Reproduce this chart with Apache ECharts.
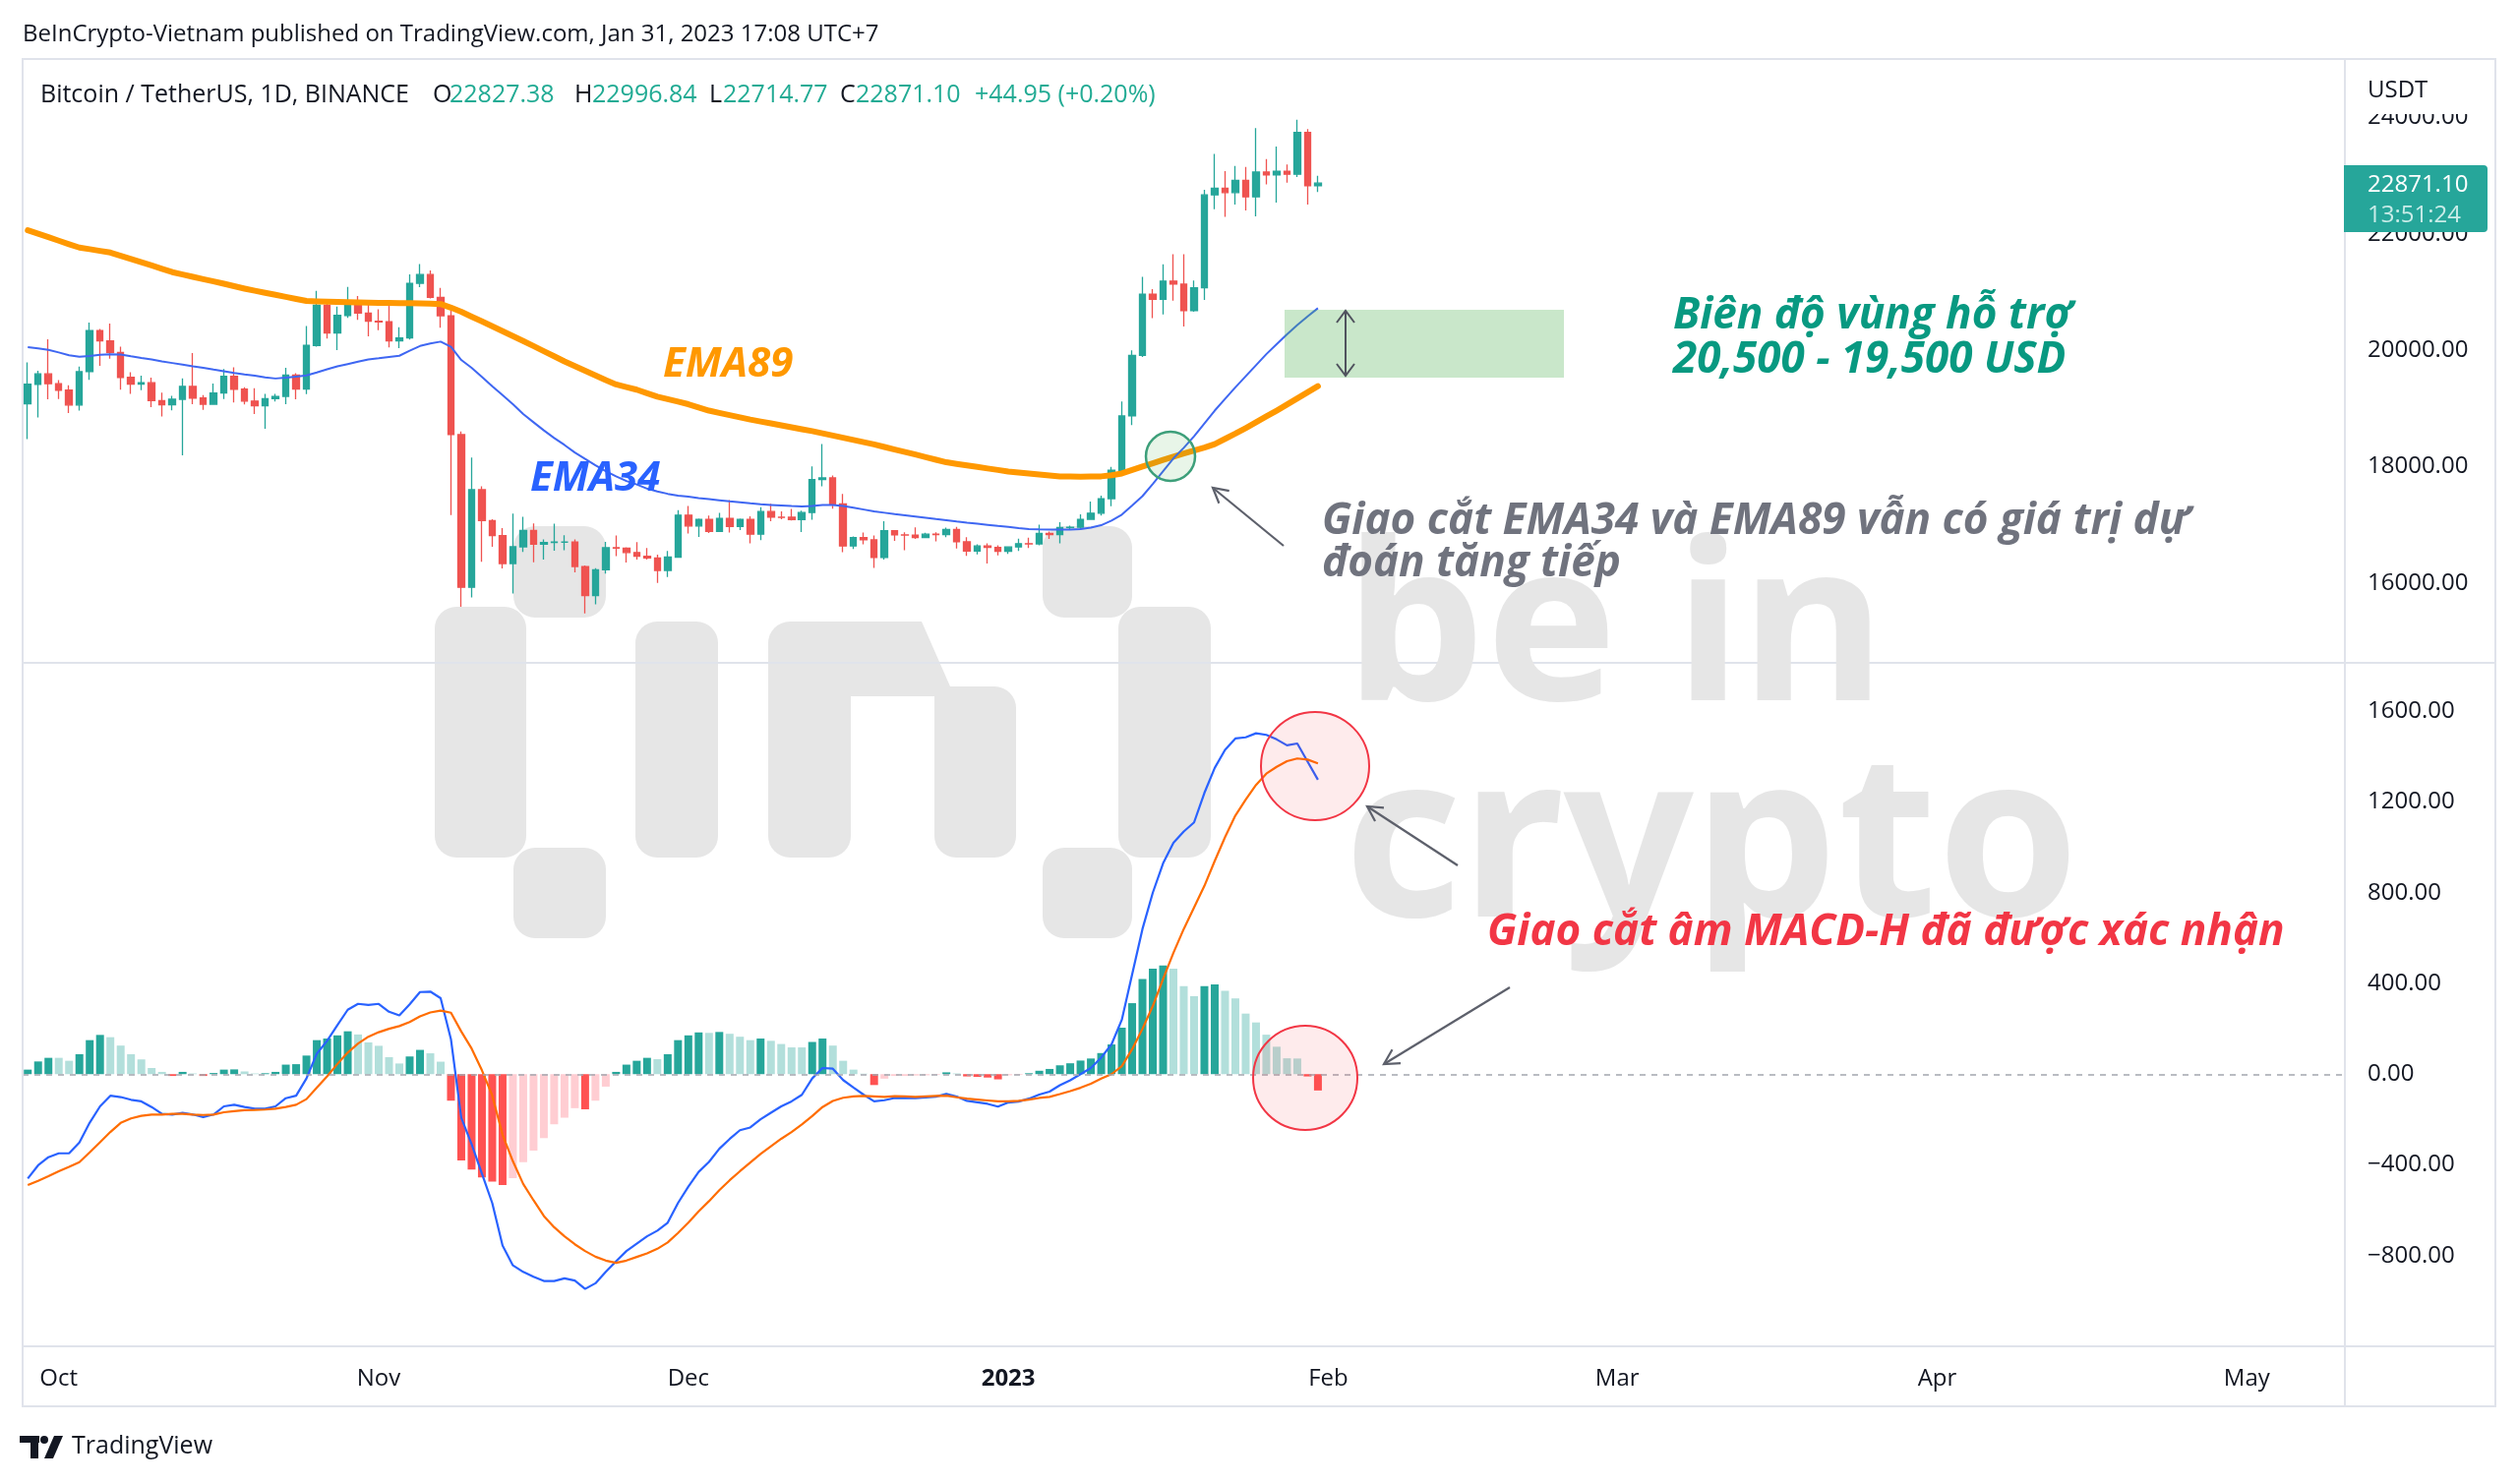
<!DOCTYPE html>
<html><head><meta charset="utf-8">
<script src="https://cdn.jsdelivr.net/npm/echarts@6/dist/echarts.min.js"></script>
<style>html,body{margin:0;padding:0;background:#fff;}#c{width:2560px;height:1509px;}</style>
</head><body><div id="c"></div>
<script>
// ---------- DATA ----------
const firstDay = '2022-09-28';
const slotCount = 225; // daily slots shown on the time axis (through 2023-05-10)
const monthNames = ['Jan','Feb','Mar','Apr','May','Jun','Jul','Aug','Sep','Oct','Nov','Dec'];
const priceTicks = [16000, 18000, 20000, 22000, 24000];
const macdTicks = [-800, -400, 0, 400, 800, 1200, 1600];

// [open, close, low, high]  BTC/USDT daily, 2022-09-28 .. 2023-01-31
const ohlc = [
[19079,19413,18471,19790],[19413,19592,18843,19645],[19592,19423,19155,20185],
[19423,19311,19160,19484],[19311,19057,18920,19395],[19057,19630,18960,19719],[19630,20337,19490,20475],
[20337,20158,19730,20365],[20158,19960,19854,20456],[19960,19531,19320,20060],[19531,19417,19250,19620],
[19417,19439,19313,19560],[19439,19131,19020,19525],[19131,19060,18860,19268],[19060,19155,18965,19214],
[19155,19375,18190,19513],[19375,19176,19070,19951],[19176,19069,18975,19227],[19069,19262,19063,19426],
[19262,19549,19160,19675],[19549,19328,19100,19706],[19328,19124,19065,19360],[19124,19042,18900,19347],
[19042,19165,18650,19250],[19165,19204,19115,19250],[19204,19571,19070,19695],[19571,19330,19157,19601],
[19330,20080,19243,20415],[20080,20772,20060,21020],[20772,20296,20200,20877],[20296,20596,20000,20750],
[20596,20818,20553,21085],[20818,20635,20520,20930],[20635,20495,20237,20840],
[20495,20486,20342,20700],[20486,20159,20048,20800],[20159,20210,20032,20394],[20210,21148,20180,21302],
[21148,21299,21080,21480],[21299,20905,20886,21369],[20905,20591,20384,21069],[20591,18547,17166,20700],
[18547,15923,15588,18600],[15923,17602,15750,18155],[17602,17071,16360,17660],[17071,16813,16620,17095],
[16813,16331,16250,16940],[16331,16620,15815,17190],[16620,16900,16530,17135],[16900,16665,16355,17020],
[16665,16694,16400,16748],[16694,16700,16553,17015],[16700,16700,16560,16820],[16700,16280,16180,16748],
[16280,15781,15476,16300],[15781,16226,15630,16254],[16226,16603,16160,16706],[16603,16598,16458,16812],
[16598,16522,16350,16610],[16522,16458,16400,16700],[16458,16428,16400,16600],[16428,16213,16000,16484],
[16213,16442,16100,16550],[16442,17163,16428,17250],
[17163,16978,16850,17320],[16978,17092,16790,17105],[17092,16886,16855,17155],[16886,17106,16878,17202],
[17106,16967,16866,17424],[16967,17089,16906,17107],[17089,16837,16678,17142],[16837,17225,16733,17299],
[17225,17128,17060,17360],[17128,17127,17092,17227],[17127,17085,17071,17270],[17085,17209,16873,17241],
[17209,17775,17084,18000],[17775,17803,17660,18387],[17803,17357,17275,17846],[17357,16633,16527,17530],
[16633,16776,16583,16796],[16776,16739,16663,16864],[16739,16438,16256,16815],[16438,16895,16398,17061],
[16895,16824,16723,16905],[16824,16822,16560,16868],[16822,16779,16755,16955],[16779,16837,16771,16860],
[16837,16830,16711,16867],[16830,16919,16785,16950],[16919,16706,16592,16963],[16706,16547,16465,16785],
[16547,16633,16488,16664],[16633,16608,16333,16677],[16608,16542,16470,16644],
[16542,16617,16499,16630],[16617,16673,16548,16760],[16673,16669,16600,16777],[16669,16850,16645,17000],
[16850,16831,16753,16881],[16831,16951,16679,17041],[16951,16955,16908,16981],[16955,17091,16912,17176],
[17091,17197,17081,17398],[17197,17446,17157,17499],[17446,17934,17316,17992],[17934,18869,17910,19117],
[18869,19910,18713,19995],[19910,20959,19880,21259],[20959,20872,20551,21050],[20872,21186,20611,21474],
[21186,21133,20849,21650],[21133,20677,20407,21650],[20677,21072,20659,21196],[21072,22667,20862,22755],
[22667,22783,22422,23372],[22783,22707,22292,23078],[22707,22916,22500,23165],[22916,22633,22400,23150],
[22633,23060,22300,23816],[23060,23009,22850,23282],[23009,23074,22534,23500],[23074,23023,22878,23189],
[23023,23743,22975,23960],[23743,22827,22500,23800],[22827,22871,22715,22997]
];

const ema89 = [
22060,22000,21940,21880,21820,21762,21735,21705,21677,21622,
21566,21510,21455,21398,21340,21300,21260,21220,21180,21140,
21098,21057,21020,20985,20950,20915,20880,20844,20838,20832,
20827,20822,20819,20816,20813,20810,20807,20805,20803,20798,
20792,20730,20660,20575,20494,20410,20325,20240,20157,20070,
19982,19895,19806,19725,19645,19565,19485,19410,19365,19320,
19260,19200,19158,19116,19070,19015,18960,18920,18882,18844,
18806,18773,18740,18707,18673,18640,18607,18569,18531,18493,
18455,18417,18380,18335,18290,18248,18205,18160,18116,18072,
18045,18018,17992,17966,17940,17912,17895,17878,17861,17845,
17830,17828,17826,17827,17830,17850,17880,17940,18000,18055,
18112,18170,18222,18275,18325,18385,18475,18565,18660,18760,
18860,18960,19065,19170,19275,19380];

const ema34 = [
20050,20030,20005,19960,19910,19885,19900,19920,19928,19925,
19895,19866,19840,19805,19778,19750,19720,19695,19665,19637,
19608,19582,19560,19530,19512,19525,19545,19564,19615,19670,
19720,19760,19800,19840,19860,19882,19903,19990,20071,20115,
20146,20056,19830,19695,19540,19380,19225,19070,18900,18760,
18620,18490,18370,18240,18130,18020,17920,17830,17750,17690,
17620,17570,17530,17500,17480,17458,17440,17420,17400,17383,
17366,17350,17340,17330,17320,17314,17320,17338,17340,17320,
17290,17260,17230,17205,17180,17160,17140,17118,17096,17075,
17053,17033,17015,16997,16978,16960,16940,16925,16918,16915,
16915,16917,16925,16950,16990,17070,17172,17330,17490,17700,
17920,18140,18320,18520,18740,18960,19160,19360,19550,19740,
19930,20100,20270,20430,20580,20720];

const macd = [
-460,-402,-366,-349,-349,-301,-214,-142,-95,-101,
-113,-120,-145,-175,-178,-171,-178,-189,-178,-142,
-135,-145,-152,-152,-142,-106,-95,-19,90,147,
216,284,310,305,310,275,259,308,362,364,
335,154,-192,-308,-438,-568,-756,-843,-872,-893,
-912,-912,-900,-910,-947,-922,-872,-825,-780,-747,
-715,-690,-655,-568,-496,-431,-387,-329,-286,-247,
-235,-199,-170,-142,-120,-91,-19,27,24,-26,
-59,-91,-120,-115,-105,-106,-106,-103,-99,-87,
-99,-118,-124,-131,-143,-125,-121,-108,-90,-77,
-49,-27,0,27,73,131,240,440,640,800,
930,1020,1070,1110,1240,1350,1430,1480,1485,1503,
1496,1476,1450,1458,1378,1298];

const signal = [
-489,-470,-450,-428,-409,-388,-345,-300,-255,-215,
-195,-184,-178,-178,-175,-175,-178,-180,-178,-168,
-163,-159,-158,-156,-152,-145,-135,-110,-60,-10,
45,95,135,165,185,200,212,230,255,272,
280,271,188,113,17,-94,-267,-384,-484,-556,
-625,-675,-715,-750,-780,-805,-822,-832,-822,-806,
-790,-770,-742,-700,-655,-605,-560,-512,-468,-428,
-390,-352,-318,-285,-255,-222,-185,-145,-118,-104,
-98,-96,-98,-100,-97,-98,-100,-98,-96,-95,
-102,-108,-112,-116,-120,-120,-118,-112,-105,-100,
-88,-75,-60,-42,-20,0,35,110,200,300,
420,535,640,735,830,940,1045,1140,1210,1275,
1325,1355,1380,1392,1387,1370];

const hist = [
20,56,72,72,59,88,150,173,163,126,
88,65,27,10,-8,10,3,-8,5,20,
21,12,3,4,10,42,44,82,150,157,
171,189,175,140,125,75,47,78,107,92,
55,-117,-380,-421,-455,-474,-489,-459,-388,-337,
-282,-221,-192,-150,-155,-117,-55,10,42,59,
72,66,88,150,171,184,182,186,178,165,
150,157,147,133,118,118,142,157,126,59,
20,2,-48,-20,-8,-8,-6,-5,-3,8,
3,-10,-12,-15,-23,-5,-3,4,15,23,
39,48,60,69,93,131,205,313,419,465,
479,465,388,344,388,396,367,334,267,228,
174,121,70,69,-10,-72];

// ---------- BUILD ----------
const dates = [];
{
  const d0 = new Date(firstDay + 'T00:00:00Z');
  for (let i = 0; i < slotCount; i++) {
    const d = new Date(d0.getTime() + i * 86400000);
    dates.push(d.toISOString().slice(0, 10));
  }
}
const histData = hist.map((v, i) => {
  const prev = i > 0 ? hist[i - 1] : null;
  let c;
  if (v >= 0) c = (prev === null || v > prev) ? '#26a69a' : '#b2dfdb';
  else c = (prev !== null && v < prev) ? '#ff5252' : '#ffcdd2';
  return { value: v, itemStyle: { color: c } };
});

const UI = '"Open Sans", "Noto Sans", sans-serif';
const TXT = '#131722';
function fmt(v) { return (v < 0 ? '\u2212' : '') + Math.abs(v).toFixed(2); }

function txt(x, y, text, font, fill, z) {
  return { type: 'text', x: x, y: y, z: z || 100, silent: true,
    style: { text: text, font: font, fill: fill, align: 'left', verticalAlign: 'middle',
             textAlign: 'left', textVerticalAlign: 'middle' } };
}
function line(x1, y1, x2, y2, stroke, w, z) {
  return { type: 'line', z: z || 100, silent: true, shape: { x1, y1, x2, y2 },
    style: { stroke: stroke, lineWidth: w, fill: 'none' } };
}
function arrow(x1, y1, x2, y2, stroke) {
  const a = Math.atan2(y2 - y1, x2 - x1), L = 17, s = 0.5;
  const p1 = [x2 - L * Math.cos(a - s), y2 - L * Math.sin(a - s)];
  const p2 = [x2 - L * Math.cos(a + s), y2 - L * Math.sin(a + s)];
  return [line(x1, y1, x2, y2, stroke, 2.2),
    { type: 'polyline', z: 100, silent: true, shape: { points: [p1, [x2, y2], p2] },
      style: { stroke: stroke, lineWidth: 2.2, fill: 'none' } }];
}
function rrect(x, y, w, h, r, fill, z) {
  return { type: 'rect', z: z, silent: true, shape: { x, y, width: w, height: h, r: r },
    style: { fill: fill } };
}

const WM = '#e6e6e6';
const watermark = [
  rrect(522, 535, 94, 93, 22, WM, 0), rrect(442, 617, 93, 255, 22, WM, 0), rrect(522, 862, 94, 92, 22, WM, 0),
  rrect(646, 632, 84, 240, 22, WM, 0),
  rrect(781, 632, 84, 240, [22, 0, 22, 22], WM, 0),
  { type: 'polygon', z: 0, silent: true, shape: { points: [[850,632],[937,632],[966,698],[1011,698],[1011,708],[850,708]] }, style: { fill: WM } },
  rrect(950, 698, 83, 174, [0, 22, 22, 22], WM, 0),
  rrect(1060, 535, 91, 93, 22, WM, 0), rrect(1137, 617, 94, 255, 22, WM, 0), rrect(1060, 862, 91, 92, 22, WM, 0),
  txt(1368, 648, 'be in', 'bold 225px "Noto Sans"', WM, 0),
  txt(1366, 866, 'crypto', 'bold 232px "Noto Sans"', WM, 0)
];

const frame = [
  { type: 'rect', z: 50, silent: true, shape: { x: 23, y: 60, width: 2514, height: 1370 },
    style: { fill: 'none', stroke: '#e0e3eb', lineWidth: 2 } },
  line(2384, 60, 2384, 1430, '#e0e3eb', 2, 50),
  line(23, 674, 2537, 674, '#e0e3eb', 2, 50),
  line(23, 1369, 2537, 1369, '#e0e3eb', 2, 50)
];

const LY = 97;
const header = [
  txt(23, 35, 'BeInCrypto-Vietnam published on TradingView.com, Jan 31, 2023 17:08 UTC+7', '24px ' + UI, TXT),
  txt(41, LY, 'Bitcoin / TetherUS, 1D, BINANCE', '25px ' + UI, TXT),
  txt(440, LY, 'O', '25px ' + UI, TXT), txt(457, LY, '22827.38', '25px ' + UI, '#22ab94'),
  txt(584, LY, 'H', '25px ' + UI, TXT), txt(602, LY, '22996.84', '25px ' + UI, '#22ab94'),
  txt(721, LY, 'L', '25px ' + UI, TXT), txt(735, LY, '22714.77', '25px ' + UI, '#22ab94'),
  txt(854, LY, 'C', '25px ' + UI, TXT), txt(870, LY, '22871.10', '25px ' + UI, '#22ab94'),
  txt(991, LY, '+44.95 (+0.20%)', '25px ' + UI, '#22ab94'),
  // axis corner label
  { type: 'rect', z: 60, silent: true, shape: { x: 2386, y: 62, width: 149, height: 54 }, style: { fill: '#ffffff' } },
  txt(2407, 92, 'USDT', '24px ' + UI, TXT, 61),
  // last price tag
  { type: 'rect', z: 60, silent: true, shape: { x: 2383, y: 168, width: 146, height: 68, r: [0, 4, 4, 0] }, style: { fill: '#26a69a' } },
  txt(2407, 188, '22871.10', '24px ' + UI, '#ffffff', 61),
  txt(2407, 219, '13:51:24', '24px ' + UI, '#c9ece8', 61),
  // footer
  { type: 'rect', z: 100, silent: true, shape: { x: 20, y: 1460, width: 20, height: 7 }, style: { fill: TXT } },
  { type: 'rect', z: 100, silent: true, shape: { x: 31, y: 1460, width: 8, height: 23 }, style: { fill: TXT } },
  { type: 'circle', z: 100, silent: true, shape: { cx: 45, cy: 1464, r: 4 }, style: { fill: TXT } },
  { type: 'polygon', z: 100, silent: true, shape: { points: [[55,1460],[64,1460],[54,1483],[45,1483]] }, style: { fill: TXT } },
  txt(73, 1471, 'TradingView', '25px ' + UI, TXT)
];

const BI = 'italic bold 44px "Open Sans"';
const notes = [
  // support zone
  { type: 'rect', z: 90, silent: true, shape: { x: 1306, y: 315, width: 284, height: 69 }, style: { fill: 'rgba(76,175,80,0.30)' } },
  line(1368, 316, 1368, 382, '#50535e', 2),
  { type: 'polyline', z: 100, silent: true, shape: { points: [[1359,328],[1368,316],[1377,328]] }, style: { stroke: '#50535e', lineWidth: 2, fill: 'none' } },
  { type: 'polyline', z: 100, silent: true, shape: { points: [[1359,370],[1368,382],[1377,370]] }, style: { stroke: '#50535e', lineWidth: 2, fill: 'none' } },
  // crossing circle
  { type: 'circle', z: 95, silent: true, shape: { cx: 1190, cy: 464, r: 25 }, style: { fill: 'rgba(76,175,80,0.13)', stroke: '#3d9f7a', lineWidth: 2.5 } },
  // red circles
  { type: 'circle', z: 95, silent: true, shape: { cx: 1337, cy: 779, r: 55 }, style: { fill: 'rgba(242,54,69,0.10)', stroke: '#f23645', lineWidth: 2 } },
  { type: 'circle', z: 95, silent: true, shape: { cx: 1327, cy: 1096, r: 53 }, style: { fill: 'rgba(242,54,69,0.10)', stroke: '#f23645', lineWidth: 2 } },
  ...arrow(1305, 555, 1233, 496, '#5d606b'),
  ...arrow(1482, 880, 1390, 820, '#5d606b'),
  ...arrow(1535, 1004, 1407, 1082, '#5d606b'),
  txt(674, 371, 'EMA89', 'italic bold 42px "Open Sans"', '#ff9800'),
  txt(539, 487, 'EMA34', 'italic bold 42px "Open Sans"', '#2962ff'),
  txt(1701, 321, 'Biên độ vùng hỗ trợ', BI, '#089981'),
  txt(1701, 366, '20,500 - 19,500 USD', BI, '#089981'),
  txt(1344, 530, 'Giao cắt EMA34 và EMA89 vẫn có giá trị dự', BI, '#70737e'),
  txt(1344, 573, 'đoán tăng tiếp', BI, '#70737e'),
  txt(1512, 948, 'Giao cắt âm MACD-H đã được xác nhận', BI, '#f23645')
];

const axisCommon = { axisLine: { show: false }, axisTick: { show: false }, splitLine: { show: false } };

const option = {
  animation: false,
  backgroundColor: '#ffffff',
  grid: [
    { left: 23, right: 176, top: 1, height: 710 },
    { left: 23, right: 176, top: 631, height: 738 }
  ],
  xAxis: [
    Object.assign({ type: 'category', gridIndex: 0, data: dates, boundaryGap: true, axisLabel: { show: false } }, axisCommon),
    Object.assign({ type: 'category', gridIndex: 1, data: dates, boundaryGap: true,
      axisLabel: {
        show: true, margin: 21, fontSize: 24, fontFamily: UI, color: TXT,
        interval: function (idx, val) { return val.slice(8) === '01'; },
        formatter: function (val) {
          const m = +val.slice(5, 7);
          return m === 1 ? '{b|' + val.slice(0, 4) + '}' : monthNames[m - 1];
        },
        rich: { b: { fontWeight: 'bold', fontSize: 24, fontFamily: UI, color: TXT } }
      } }, axisCommon)
  ],
  yAxis: [
    Object.assign({ type: 'value', gridIndex: 0, position: 'right', min: 14000, max: 26000, interval: 2000,
      axisLabel: { margin: 23, fontSize: 24, fontFamily: UI, color: TXT,
        formatter: v => (priceTicks.indexOf(v) >= 0 ? fmt(v) : '') } }, axisCommon),
    Object.assign({ type: 'value', gridIndex: 1, position: 'right', min: -1200, max: 2000, interval: 400,
      axisLabel: { margin: 23, fontSize: 24, fontFamily: UI, color: TXT,
        formatter: v => (macdTicks.indexOf(v) >= 0 ? fmt(v) : '') } }, axisCommon)
  ],
  series: [
    { type: 'candlestick', xAxisIndex: 0, yAxisIndex: 0, data: ohlc, barWidth: 7,
      itemStyle: { color: '#26a69a', color0: '#ef5350', borderColor: '#26a69a', borderColor0: '#ef5350', borderWidth: 1.3 } },
    { type: 'line', xAxisIndex: 0, yAxisIndex: 0, data: ema89, symbol: 'none', silent: true,
      lineStyle: { color: '#ff9800', width: 6, cap: 'round', join: 'round' } },
    { type: 'line', xAxisIndex: 0, yAxisIndex: 0, data: ema34, symbol: 'none', silent: true,
      lineStyle: { color: '#3f67f2', width: 2 } },
    { type: 'bar', xAxisIndex: 1, yAxisIndex: 1, data: histData, barWidth: 8, silent: true,
      markLine: { silent: true, symbol: 'none', label: { show: false },
        lineStyle: { type: [6, 6], color: '#a3a6af', width: 1.5 }, data: [{ yAxis: 0 }] } },
    { type: 'line', xAxisIndex: 1, yAxisIndex: 1, data: macd, symbol: 'none', silent: true,
      lineStyle: { color: '#2962ff', width: 2.2 } },
    { type: 'line', xAxisIndex: 1, yAxisIndex: 1, data: signal, symbol: 'none', silent: true,
      lineStyle: { color: '#ff6d00', width: 2.2 } }
  ],
  graphic: { elements: [].concat(watermark, frame, header, notes) }
};

const chart = echarts.init(document.getElementById('c'), null, { renderer: 'canvas', width: 2560, height: 1509 });
chart.setOption(option);
</script>
</body></html>
